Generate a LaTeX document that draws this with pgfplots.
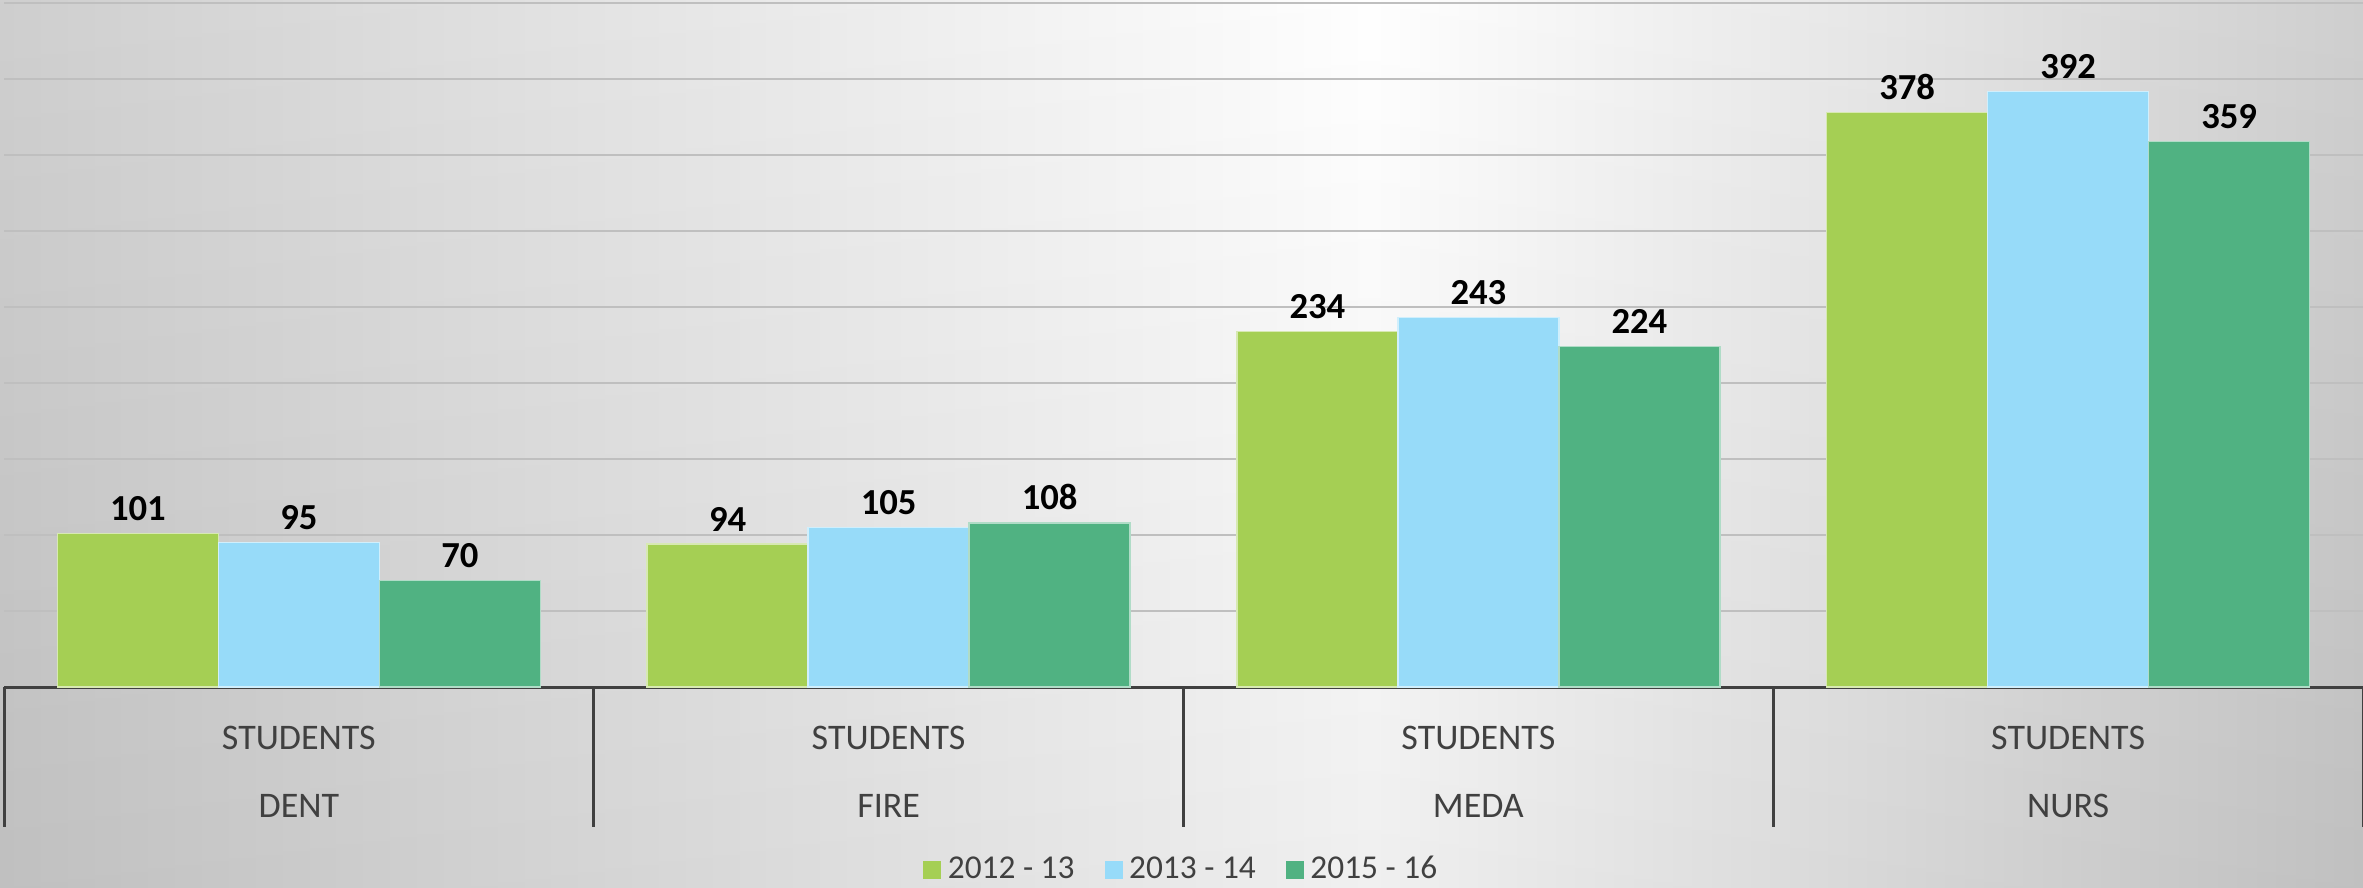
\documentclass[border=0pt]{standalone}
\usepackage{pgfplots}
\pgfplotsset{compat=1.18}
\usepackage{fontspec}
\setmainfont{Carlito}
\definecolor{cA}{RGB}{165,207,84}
\definecolor{cB}{RGB}{151,219,249}
\definecolor{cC}{RGB}{80,178,130}
\definecolor{txt}{RGB}{64,64,64}
\definecolor{bgg}{RGB}{204,204,204}
\pgfdeclarehorizontalshading{bgshade}{100bp}{color(0bp)=(bgg); color(25bp)=(bgg); color(54bp)=(white); color(75bp)=(bgg); color(100bp)=(bgg)}
\begin{document}
\begin{tikzpicture}
\shade[shading=bgshade] (-1.2pt,-60pt) rectangle (707.7pt,206.1pt);
\shade[top color=white, bottom color=black, opacity=0.06] (-1.2pt,-60pt) rectangle (707.7pt,206.1pt);
\begin{axis}[
 at={(0,0)}, anchor=south west, scale only axis, width=707.7pt, height=205.2pt,
 xmin=-0.5, xmax=3.5, ymin=0, ymax=450,
 ybar=0pt, bar width=48.3pt,
 axis lines*=left,
 x axis line style={-, line width=0.9pt, color=txt},
 y axis line style={draw=none},
 xtick=\empty, ytick={50,100,...,450}, yticklabels={}, major tick length=0pt,
 ymajorgrids, grid style={line width=0.6pt, color=black!25},
 clip=false,
 /pgf/number format/assume math mode=true,
 nodes near coords,
 every node near coord/.append style={font=\fontsize{11}{13}\selectfont\bfseries, text=black, inner sep=0pt, yshift=3.6pt, anchor=south},
 legend style={at={(0.5,-0.2675)}, anchor=center, draw=none, fill=none, legend columns=3,
   font=\fontsize{10}{12}\selectfont, text=txt,
   /tikz/every even column/.append style={column sep=7pt}},
 legend image code/.code={\fill[#1,draw=none] (0pt,-2.7pt) rectangle (5.4pt,2.7pt);},
]
\addplot[fill=cA, draw=white!55!cA, line width=0.4pt] coordinates {(0,101) (1,94) (2,234) (3,378)};
\addplot[fill=cB, draw=white!55!cB, line width=0.4pt] coordinates {(0,95) (1,105) (2,243) (3,392)};
\addplot[fill=cC, draw=white!55!cC, line width=0.4pt] coordinates {(0,70) (1,108) (2,224) (3,359)};
\legend{2012 - 13, 2013 - 14, 2015 - 16}
\draw[txt, line width=0.9pt] (axis cs:-0.5,0) -- ++(0pt,-42pt);
\draw[txt, line width=0.9pt] (axis cs:0.5,0) -- ++(0pt,-42pt);
\draw[txt, line width=0.9pt] (axis cs:1.5,0) -- ++(0pt,-42pt);
\draw[txt, line width=0.9pt] (axis cs:2.5,0) -- ++(0pt,-42pt);
\draw[txt, line width=0.9pt] (axis cs:3.5,0) -- ++(0pt,-42pt);
\node[text=txt, font=\fontsize{10.8}{13}\selectfont] at ([yshift=-15.3pt]axis cs:0,0) {STUDENTS};
\node[text=txt, font=\fontsize{10.8}{13}\selectfont] at ([yshift=-15.3pt]axis cs:1,0) {STUDENTS};
\node[text=txt, font=\fontsize{10.8}{13}\selectfont] at ([yshift=-15.3pt]axis cs:2,0) {STUDENTS};
\node[text=txt, font=\fontsize{10.8}{13}\selectfont] at ([yshift=-15.3pt]axis cs:3,0) {STUDENTS};
\node[text=txt, font=\fontsize{10.8}{13}\selectfont] at ([yshift=-35.7pt]axis cs:0,0) {DENT};
\node[text=txt, font=\fontsize{10.8}{13}\selectfont] at ([yshift=-35.7pt]axis cs:1,0) {FIRE};
\node[text=txt, font=\fontsize{10.8}{13}\selectfont] at ([yshift=-35.7pt]axis cs:2,0) {MEDA};
\node[text=txt, font=\fontsize{10.8}{13}\selectfont] at ([yshift=-35.7pt]axis cs:3,0) {NURS};
\end{axis}
\pgfresetboundingbox
\path (-1.2pt,-60pt) rectangle (707.7pt,206.1pt);
\end{tikzpicture}
\end{document}
